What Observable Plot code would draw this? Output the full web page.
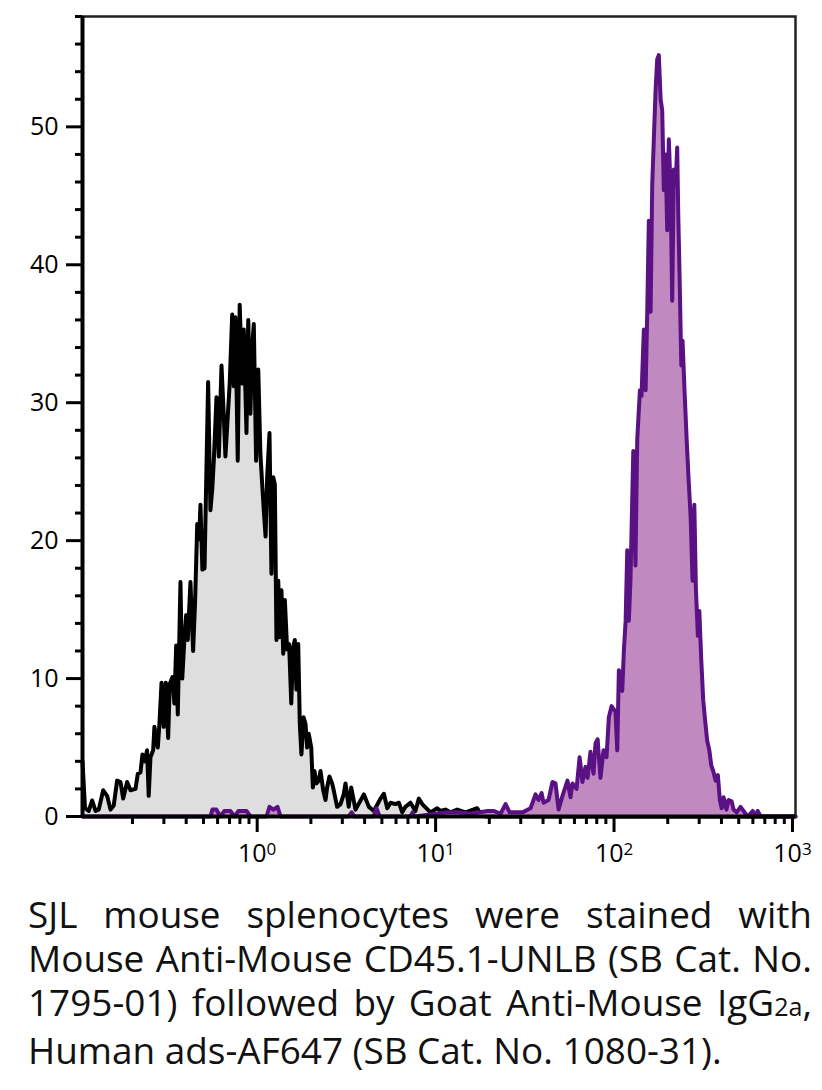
<!DOCTYPE html>
<html>
<head>
<meta charset="utf-8">
<script src="https://cdn.jsdelivr.net/npm/d3@7"></script>
<script src="https://cdn.jsdelivr.net/npm/@observablehq/plot@0.6"></script>
<style>
  html, body { margin: 0; padding: 0; background: #fff; }
  #chart svg { display: block; }
  #caption { width: 784px; margin-left: 28px; padding-top: 12px; font-family: "Open Sans", sans-serif; font-size: 35px; line-height: 44px; color: #111; }
  #caption .j { text-align: justify; text-align-last: justify; }
  #caption .l { text-align: left; }
  #caption .sub { font-size: 0.68em; }
</style>
</head>
<body>
<div id="chart"></div>
<div id="caption">
  <div class="j">SJL mouse splenocytes were stained with</div>
  <div class="j">Mouse Anti-Mouse CD45.1-UNLB (SB Cat. No.</div>
  <div class="j">1795-01) followed by Goat Anti-Mouse IgG<span class="sub">2a</span>,</div>
  <div class="l">Human ads-AF647 (SB Cat. No. 1080-31).</div>
</div>
<script>
// Fluorescence intensity, stored as log10 of the channel value, with event counts
const blackLog = [-0.979,-0.965,-0.944,-0.925,-0.906,-0.888,-0.863,-0.841,-0.822,-0.804,-0.785,-0.766,-0.751,-0.729,-0.710,-0.682,-0.669,-0.654,-0.643,-0.630,-0.617,-0.608,-0.598,-0.583,-0.576,-0.557,-0.548,-0.536,-0.524,-0.512,-0.499,-0.490,-0.475,-0.464,-0.454,-0.445,-0.430,-0.420,-0.409,-0.398,-0.389,-0.374,-0.359,-0.348,-0.336,-0.325,-0.318,-0.307,-0.295,-0.286,-0.275,-0.262,-0.252,-0.243,-0.228,-0.215,-0.200,-0.187,-0.178,-0.165,-0.154,-0.140,-0.131,-0.122,-0.109,-0.098,-0.084,-0.075,-0.060,-0.050,-0.038,-0.028,-0.019,-0.006,0.006,0.018,0.028,0.037,0.047,0.056,0.069,0.080,0.090,0.099,0.108,0.118,0.127,0.136,0.146,0.155,0.168,0.179,0.191,0.202,0.211,0.220,0.230,0.239,0.248,0.260,0.271,0.280,0.289,0.303,0.312,0.321,0.332,0.345,0.355,0.370,0.383,0.392,0.405,0.420,0.429,0.448,0.467,0.485,0.495,0.513,0.527,0.551,0.598,0.626,0.654,0.691,0.710,0.729,0.747,0.775,0.794,0.813,0.831,0.859,0.887,0.906,0.925,0.971,1.009,1.027,1.055,1.084,1.121,1.168,1.233,1.252,1.280,3.017];
const blackCount = [4.0,0.6,0.4,1.16,0.4,0.5,1.9,1.5,0.5,0.8,2.6,2.5,1.3,2.5,1.9,2.0,3.1,3.2,4.5,4.0,4.8,1.5,4.3,4.8,6.5,5.0,6.7,9.7,6.5,9.7,5.7,9.6,10.1,8.2,12.4,7.4,17.0,10.0,12.6,14.6,12.8,17.0,12.0,15.6,21.2,20.1,22.6,17.9,18.0,24.1,31.5,22.2,23.7,25.8,30.4,26.1,32.7,29.0,26.1,29.0,31.4,36.4,31.2,36.2,25.8,37.1,31.4,35.3,27.8,36.0,29.2,34.1,35.7,25.8,32.4,26.3,24.1,22.2,20.3,24.6,27.8,17.6,24.6,24.1,12.8,17.1,13.0,16.4,11.8,15.7,12.1,12.5,8.2,12.3,12.8,9.2,12.5,6.7,4.5,7.2,6.7,5.0,6.0,5.0,2.1,3.3,2.4,2.6,3.3,1.9,1.2,2.1,2.9,2.4,1.9,0.7,0.9,1.6,2.4,0.7,2.1,0.5,1.6,0.7,0.4,1.3,1.65,0.6,1.0,0.9,1.0,0.3,0.7,1.0,0.4,1.3,0.9,0.3,0.6,0.4,0.5,0.3,0.5,0.3,0.6,0.2,0,0];

const purpleLog = [-0.979,-0.262,-0.251,-0.229,-0.206,-0.184,-0.150,-0.127,-0.105,-0.060,-0.038,0.052,0.069,0.091,0.114,0.131,0.512,0.529,0.545,0.652,0.669,0.686,0.859,0.871,0.882,1.061,1.084,1.128,1.196,1.291,1.325,1.364,1.392,1.415,1.448,1.487,1.532,1.560,1.577,1.594,1.605,1.633,1.655,1.672,1.689,1.711,1.739,1.756,1.767,1.790,1.807,1.823,1.840,1.852,1.868,1.885,1.896,1.908,1.924,1.941,1.958,1.971,1.986,2.008,2.018,2.027,2.036,2.046,2.055,2.065,2.074,2.083,2.092,2.108,2.120,2.130,2.145,2.154,2.167,2.177,2.186,2.195,2.205,2.214,2.223,2.233,2.242,2.251,2.261,2.270,2.279,2.289,2.298,2.307,2.317,2.326,2.335,2.345,2.354,2.360,2.369,2.377,2.384,2.395,2.407,2.418,2.429,2.440,2.450,2.459,2.470,2.478,2.489,2.500,2.511,2.522,2.534,2.545,2.556,2.569,2.582,2.593,2.603,2.614,2.630,2.642,2.659,2.670,2.687,2.709,2.726,2.749,2.777,2.794,2.805,2.822,3.017];
const purpleCount = [0,0,0.5,0.5,0,0.4,0.4,0,0.4,0.4,0,0,0.7,0.5,0.7,0,0,0.3,0,0,0.6,0,0,0.3,0,0.3,0.3,0.3,0.2,0.4,0.4,0.2,0.9,0.3,0.3,0.3,0.6,1.6,1.2,1.7,1.0,1.2,2.5,2.4,0.5,1.5,2.6,1.4,2.4,2.0,4.3,2.5,3.6,2.8,4.7,3.1,5.3,5.6,2.8,4.8,4.3,7.2,8.0,7.6,4.8,10.6,10.2,9.1,12.0,14.2,19.3,14.2,17.1,26.5,18.2,27.3,30.9,30.5,35.3,30.9,36.5,43.2,36.6,45.8,49.1,52.7,54.9,55.2,52.0,51.2,45.4,48.0,42.5,49.1,45.4,37.4,46.9,45.8,48.5,43.6,38.1,32.7,34.5,30.9,27.3,24.4,21.8,17.1,22.6,16.4,13.1,14.9,11.3,8.4,6.9,5.5,4.8,3.7,3.3,2.6,3.0,1.2,0.6,1.4,0.5,1.2,1.1,0.5,0.3,0.7,0.4,0,0.4,0,0.4,0,0];

const yMajorTicks = [0, 10, 20, 30, 40, 50];
const yMinorTicks = [2,4,6,8,12,14,16,18,22,24,26,28,32,34,36,38,42,44,46,48,52,54,56,58];
const xMajorTicks = [1, 10, 100, 1000];
const xMinorTicks = [0.2,0.3,0.4,0.5,0.6,0.7,0.8,0.9,2,3,4,5,6,7,8,9,20,30,40,50,60,70,80,90,200,300,400,500,600,700,800,900];
const xDomainLog = [-0.979, 3.017];
const yDomain = [0, 58];

const black = blackLog.map((e, i) => ({x: 10 ** e, y: blackCount[i]}));
const purple = purpleLog.map((e, i) => ({x: 10 ** e, y: purpleCount[i]}));
const xMin = 10 ** xDomainLog[0];

const chart = Plot.plot({
  width: 822,
  height: 880,
  marginLeft: 82,
  marginRight: 27,
  marginTop: 16,
  marginBottom: 64,
  style: {fontFamily: "'Open Sans', sans-serif", color: "#000", background: "#fff"},
  x: {type: "log", domain: xDomainLog.map(e => 10 ** e), label: null},
  y: {domain: yDomain, label: null},
  marks: [
    Plot.areaY(black, {x: "x", y: "y", fill: "#dedede"}),
    Plot.lineY(black, {x: "x", y: "y", stroke: "#000", strokeWidth: 4, strokeLinejoin: "round"}),
    Plot.areaY(purple, {x: "x", y: "y", fill: "#c08ac0"}),
    Plot.lineY(purple, {x: "x", y: "y", stroke: "#5a1183", strokeWidth: 4, strokeLinejoin: "round"}),
    Plot.frame({stroke: "#222", strokeWidth: 2.5}),
    Plot.axisY(yMinorTicks, {tickSize: 7, tickFormat: () => "", strokeWidth: 3, stroke: "#000"}),
    Plot.axisY(yMajorTicks, {tickSize: 16, tickPadding: 8, strokeWidth: 3, stroke: "#000", fontSize: 25}),
    Plot.axisX(xMinorTicks, {tickSize: 8, tickFormat: () => "", strokeWidth: 3, stroke: "#000"}),
    Plot.axisX(xMajorTicks, {tickSize: 16, tickPadding: 12, strokeWidth: 3, stroke: "#000", fontSize: 25,
      tickFormat: d => "10|" + Math.round(Math.log10(d))}),
    Plot.ruleX([xMin], {stroke: "#000", strokeWidth: 4}),
    Plot.ruleY([0], {stroke: "#000", strokeWidth: 4})
  ]
});

document.getElementById("chart").appendChild(chart);

// Render tick labels as 10 with a superscript exponent
d3.select(chart).selectAll("text").each(function () {
  const t = this.textContent;
  if (t.includes("|")) {
    const [base, exp] = t.split("|");
    const sel = d3.select(this);
    sel.text(null);
    sel.append("tspan").text(base);
    sel.append("tspan").attr("dy", "-0.45em").attr("font-size", "17").text(exp);
  }
});

// Fit caption size: last line near 694px wide, no line wider than the block
const cap = document.getElementById("caption");
const rows = Array.from(cap.children);
function naturalWidths() {
  return rows.map(d => {
    d.style.display = "inline-block";
    d.style.whiteSpace = "nowrap";
    const w = d.getBoundingClientRect().width;
    d.style.display = "";
    d.style.whiteSpace = "";
    return w;
  });
}
const w0 = naturalWidths();
const fs0 = parseFloat(getComputedStyle(cap).fontSize);
const fs = Math.min(fs0 * Math.min(694 / w0[3], 776 / Math.max(...w0)), 37);
cap.style.fontSize = fs + "px";
</script>
</body>
</html>
